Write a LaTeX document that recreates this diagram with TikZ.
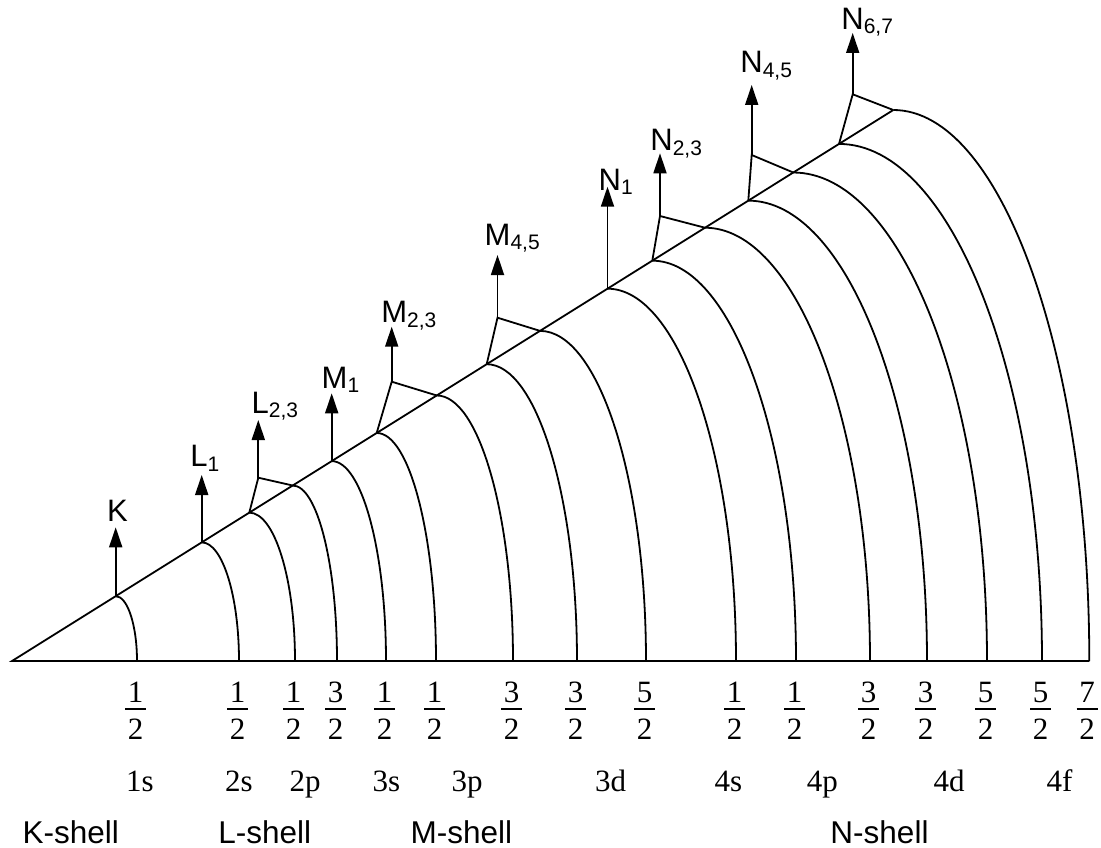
\documentclass[tikz,border=0pt]{standalone}
\usepackage{fontspec}
\setmainfont{Liberation Serif}
\newfontfamily\arialf{Liberation Sans}
\usetikzlibrary{arrows.meta}
\newcommand\lvl[2]{{\arialf\fontsize{31}{31}\selectfont #1\raisebox{-4.5pt}{\fontsize{21}{21}\selectfont #2}}}
\tikzset{
  lvlarrow/.style={-{Triangle[length=20pt,width=13pt]}},
  lvllabel/.style={anchor=base west, inner sep=0pt},
  fracnum/.style={anchor=base, inner sep=0pt, font=\fontsize{31}{31}\selectfont},
  orblabel/.style={anchor=base, inner sep=0pt, font=\fontsize{31}{31}\selectfont},
  shelllabel/.style={anchor=base, inner sep=0pt, font=\arialf\fontsize{31.5}{31.5}\selectfont},
  fracbar/.style={line width=1.3pt}
}
\begin{document}
\begin{tikzpicture}[x=1pt,y=-1pt,line width=1.8pt,line join=miter]
\useasboundingbox (0,0) rectangle (1101,848);
% axes
\coordinate (O) at (12,661);
\coordinate (E) at (893.3,110);
\coordinate (R) at (1089.3,661);
\draw (R) -- (O) -- (E);
% sub-level arcs (quarter ellipses)
\foreach \n/\px/\bx in {a1/115.7/137, a2/201.7/239, a3/249.3/295, a4/292.7/337,
  a5/331.7/386, a6/376.7/436, a7/436.7/513, a8/486.7/577, a9/540/646,
  a10/607.5/736, a11/652.3/796, a12/705/870, a13/748.3/927, a14/793.3/987,
  a15/839/1042, a16/893.3/1089.3}{
  \pgfmathsetmacro\py{661-(\px-12)*0.62522}
  \pgfmathsetmacro\rx{\bx-\px}
  \pgfmathsetmacro\ry{661-\py}
  \coordinate (\n) at (\px,\py);
  \draw (\n) arc[start angle=90,end angle=0,x radius=\rx pt,y radius=\ry pt];
}
% triangle apexes
\coordinate (T1) at (258.3,477.7);
\coordinate (T2) at (391.7,381.7);
\coordinate (T3) at (497.5,317.7);
\coordinate (T4) at (660,216);
\coordinate (T5) at (751.7,155);
\coordinate (T6) at (852.7,94.3);
\draw (a3) -- (T1) -- (a4);
\draw (a6) -- (T2) -- (a7);
\draw (a8) -- (T3) -- (a9);
\draw (a11) -- (T4) -- (a12);
\draw (a13) -- (T5) -- (a14);
\draw (a15) -- (T6) -- (a16);
% arrow tips
\coordinate (tK) at (115.7,527.3);
\coordinate (tL1) at (201.7,475);
\coordinate (tL23) at (258.3,420);
\coordinate (tM1) at (331.7,393.3);
\coordinate (tM23) at (391.7,326.7);
\coordinate (tM45) at (497.5,255);
\coordinate (tN1) at (607.5,186.7);
\coordinate (tN23) at (660,153.3);
\coordinate (tN45) at (751.7,85);
\coordinate (tN67) at (852.7,33);
\draw[lvlarrow] (a1) -- (tK);
\draw[lvlarrow] (a2) -- (tL1);
\draw[lvlarrow] (T1) -- (tL23);
\draw[lvlarrow] (a5) -- (tM1);
\draw[lvlarrow] (T2) -- (tM23);
\draw[lvlarrow] (T3) -- (tM45);
\draw[lvlarrow] (a10) -- (tN1);
\draw[lvlarrow] (T4) -- (tN23);
\draw[lvlarrow] (T5) -- (tN45);
\draw[lvlarrow] (T6) -- (tN67);
% level labels
\node[lvllabel] (lK) at (106.3,521.7) {\lvl{K}{}};
\node[lvllabel] (lL1) at (189.5,466.7) {\lvl{L}{1}};
\node[lvllabel] (lL23) at (250.8,413.3) {\lvl{L}{2,3}};
\node[lvllabel] (lM1) at (320.8,388.3) {\lvl{M}{1}};
\node[lvllabel] (lM23) at (380.5,322.7) {\lvl{M}{2,3}};
\node[lvllabel] (lM45) at (483.8,245) {\lvl{M}{4,5}};
\node[lvllabel] (lN1) at (597.8,190) {\lvl{N}{1}};
\node[lvllabel] (lN23) at (649.5,150.7) {\lvl{N}{2,3}};
\node[lvllabel] (lN45) at (739.5,72.7) {\lvl{N}{4,5}};
\node[lvllabel] (lN67) at (840.5,29.3) {\lvl{N}{6,7}};
% j fractions
\foreach \i/\x/\num in {1/135.5/1, 2/237.5/1, 3/293.5/1, 4/335.5/3, 5/384.5/1, 6/434.5/1,
  7/511.5/3, 8/575.5/3, 9/644.5/5, 10/734.5/1, 11/794.5/1, 12/868.5/3, 13/925.5/3,
  14/985.5/5, 15/1040.5/5, 16/1087/7}{
  \node[fracnum] (fn\i) at (\x,702) {\num};
  \draw[fracbar] (\x-10.5,709) -- (\x+10.5,709);
  \node[fracnum] (fd\i) at (\x,739) {2};
}
% orbital labels
\foreach \i/\x/\t in {1/140/1s, 2/239/2s, 3/305/2p, 4/386.5/3s, 5/467/3p, 6/610.5/3d,
  7/728.4/4s, 8/822.4/4p, 9/949/4d, 10/1059.5/4f}{
  \node[orblabel] (o\i) at (\x,791.7) {\t};
}
% shell labels
\node[shelllabel] (sK) at (70.8,843.3) {K-shell};
\node[shelllabel] (sL) at (264.8,843.3) {L-shell};
\node[shelllabel] (sM) at (461.3,843.3) {M-shell};
\node[shelllabel] (sN) at (879.5,843.3) {N-shell};
\end{tikzpicture}
\end{document}
